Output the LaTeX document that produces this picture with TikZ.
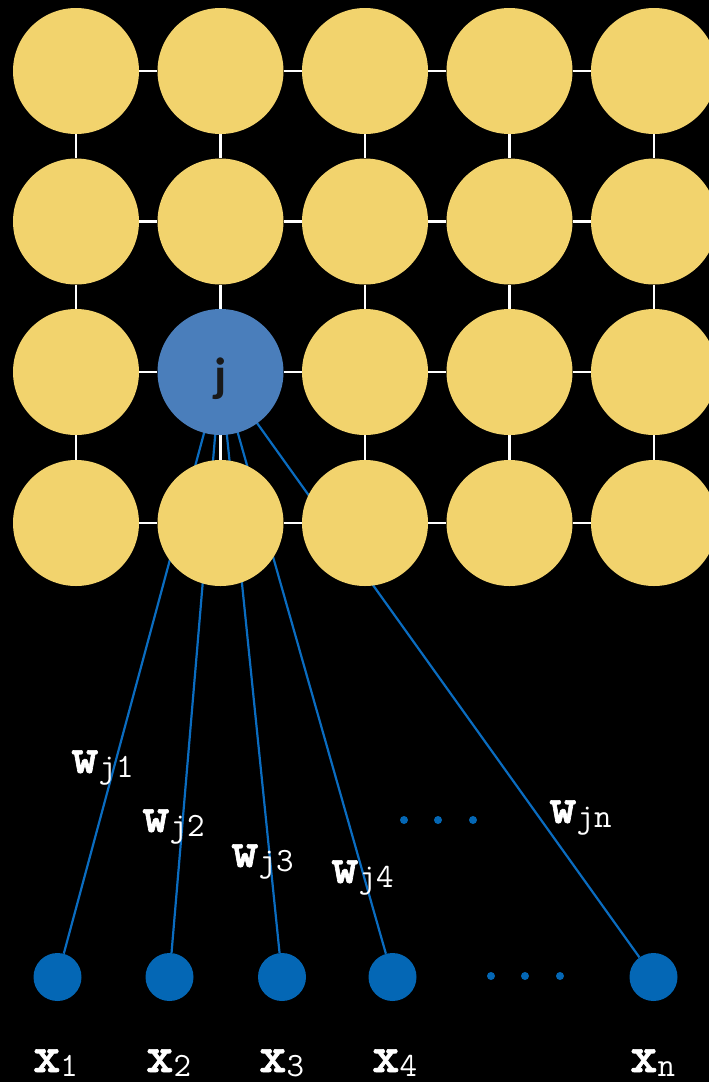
\documentclass[tikz,border=0pt]{standalone}
\usepackage{fontspec}
\newfontfamily\carl{Carlito}
\newfontfamily\wbold{lmmonolt10-bold.otf}[FakeBold=1.2]
\definecolor{gold}{HTML}{F2D36D}
\definecolor{jblue}{HTML}{4A7EBB}
\definecolor{inblue}{HTML}{0467B5}
\definecolor{lineblue}{HTML}{0A6CC0}
\pgfdeclarelayer{back}
\pgfdeclarelayer{bg}
\pgfsetlayers{back,bg,main}
\newcommand\wlab[1]{{\wbold\fontsize{52}{52}\selectfont w}\raisebox{-4pt}{\ttfamily\fontsize{34}{34}\selectfont j#1}}
\newcommand\xlab[1]{{\wbold\fontsize{52}{52}\selectfont x}\raisebox{-4pt}{\ttfamily\fontsize{34}{34}\selectfont #1}}
\tikzset{
  unit/.style={circle, fill=gold, minimum size=126pt, inner sep=0pt},
  winner/.style={circle, fill=jblue, minimum size=126pt, inner sep=0pt},
  inp/.style={circle, fill=inblue, minimum size=48pt, inner sep=0pt},
  dotn/.style={circle, fill=inblue, minimum size=8pt, inner sep=0pt},
  gridline/.style={white, line width=2.5pt},
  weight/.style={lineblue, line width=2.2pt},
  lab/.style={anchor=base west, inner sep=0pt, text=white},
}
\begin{document}
\begin{tikzpicture}[x=1pt,y=-1pt]
\begin{pgfonlayer}{back}
\fill[black] (0,0) rectangle (709,1082);
\end{pgfonlayer}
\clip (0,0) rectangle (709,1082);
% grid units
\foreach \r/\y in {1/71,2/221.5,3/372,4/523}{
  \foreach \c/\x in {1/76,2/220.5,3/365,4/509.5,5/654}{
    \ifnum\r\c=32
      \node[winner] (g\r\c) at (\x,\y) {};
    \else
      \node[unit] (g\r\c) at (\x,\y) {};
    \fi
  }
}
\node[anchor=base, inner sep=0pt, text=black!90] (jlab) at (221,391) {\carl\bfseries\fontsize{48}{48}\selectfont j};
% inputs
\node[inp] (x1) at (57.5,977) {};
\node[inp] (x2) at (169.5,977) {};
\node[inp] (x3) at (282,977) {};
\node[inp] (x4) at (392.5,977) {};
\node[inp] (xn) at (653.5,977) {};
\node[dotn] (d1) at (491,976) {};
\node[dotn] (d2) at (525,976) {};
\node[dotn] (d3) at (560,976) {};
\node[dotn] (e1) at (404,820) {};
\node[dotn] (e2) at (438,820) {};
\node[dotn] (e3) at (473,820) {};
% labels
\node[lab] (w1) at (71,773) {\wlab{1}};
\node[lab] (w2) at (142,832) {\wlab{2}};
\node[lab] (w3) at (231,867) {\wlab{3}};
\node[lab] (w4) at (331,883) {\wlab{4}};
\node[lab] (wn) at (549,823) {\wlab{n}};
\node[lab] (l1) at (33,1072) {\xlab{1}};
\node[lab] (l2) at (146,1072) {\xlab{2}};
\node[lab] (l3) at (259,1072) {\xlab{3}};
\node[lab] (l4) at (372,1072) {\xlab{4}};
\node[lab] (ln) at (630,1072) {\xlab{n}};
\begin{pgfonlayer}{bg}
  \foreach \r in {1,2,3,4}{
    \foreach \c/\d in {1/2,2/3,3/4,4/5}{
      \draw[gridline] (g\r\c) -- (g\r\d);
    }
  }
  \foreach \c in {1,2,3,4,5}{
    \foreach \r/\s in {1/2,2/3,3/4}{
      \draw[gridline] (g\r\c) -- (g\s\c);
    }
  }
  \foreach \t in {x1,x2,x3,x4,xn}{
    \draw[weight] (g32.center) -- (\t);
  }
\end{pgfonlayer}
\end{tikzpicture}
\end{document}
